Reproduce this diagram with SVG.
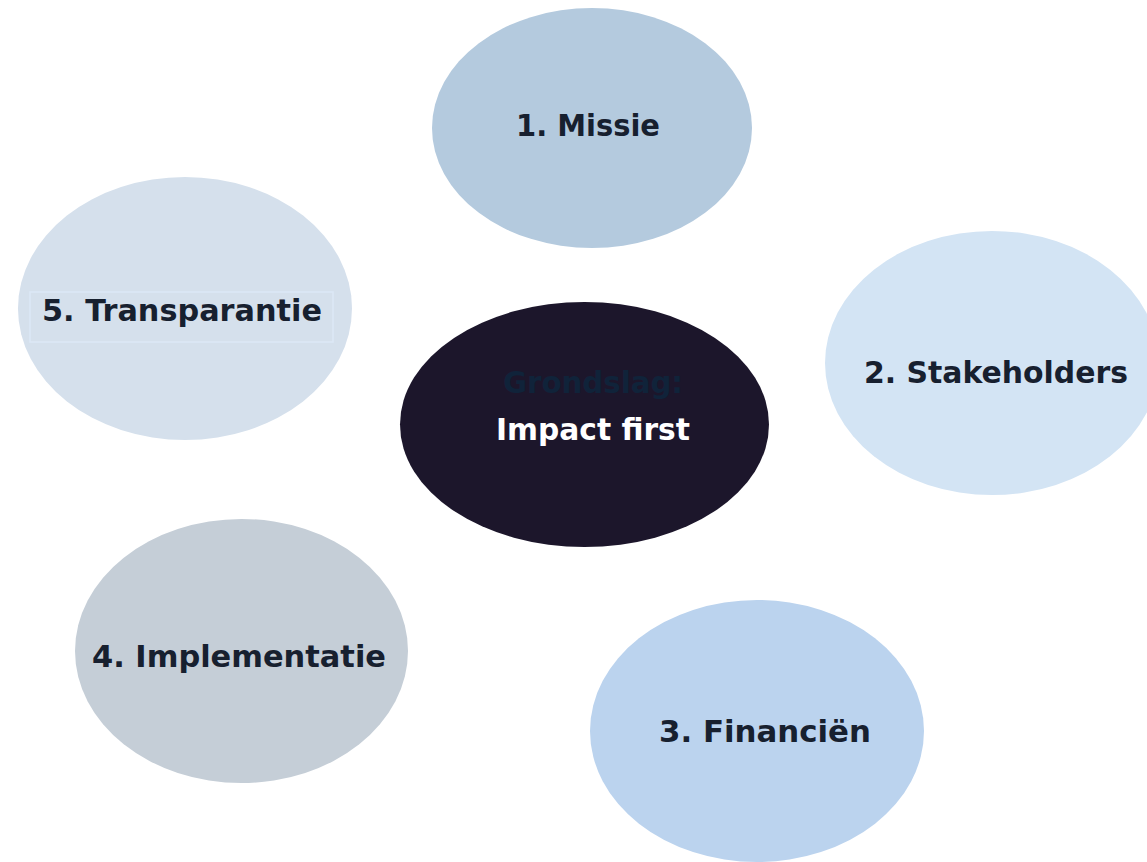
<svg xmlns="http://www.w3.org/2000/svg" width="1147" height="862" viewBox="0 0 1147 862">
<style>
.lbl{font-family:"DejaVu Sans","Liberation Sans",sans-serif;font-weight:bold;font-size:30px;text-anchor:middle;fill:#17202f}
.ctr{font-family:"DejaVu Sans","Liberation Sans",sans-serif;font-weight:bold;font-size:30px;text-anchor:middle}
</style>
<rect width="1147" height="862" fill="#ffffff"/>
<g id="connectors"></g>
<g id="n1"><ellipse cx="592" cy="128" rx="160" ry="120" fill="#b4cade"/><text class="lbl" x="588" y="136" textLength="144" lengthAdjust="spacingAndGlyphs">1. Missie</text></g>
<g id="n2"><ellipse cx="992" cy="363" rx="167" ry="132" fill="#d3e4f4"/><text class="lbl" x="996" y="383" textLength="264" lengthAdjust="spacingAndGlyphs">2. Stakeholders</text></g>
<g id="n3"><ellipse cx="757" cy="731" rx="167" ry="131" fill="#bbd3ee"/><text class="lbl" x="765" y="742" textLength="212" lengthAdjust="spacingAndGlyphs">3. Financiën</text></g>
<g id="n4"><ellipse cx="241.5" cy="651" rx="166.5" ry="132" fill="#c5ced7"/><text class="lbl" x="239" y="667" textLength="294" lengthAdjust="spacingAndGlyphs">4. Implementatie</text></g>
<g id="n5"><ellipse cx="185" cy="308.5" rx="167" ry="131.5" fill="#d5e0ec"/><rect x="30" y="292" width="303" height="50" fill="none" stroke="#dce8f6" stroke-width="1.5"/><text class="lbl" x="182" y="321" textLength="280" lengthAdjust="spacingAndGlyphs">5. Transparantie</text></g>
<g id="center"><ellipse cx="584.5" cy="424.5" rx="184.5" ry="122.5" fill="#1c162b"/><text class="ctr" x="593" y="393" fill="#10233a" textLength="180" lengthAdjust="spacingAndGlyphs">Grondslag:</text><text class="ctr" x="593" y="440" fill="#ffffff" textLength="194" lengthAdjust="spacingAndGlyphs">Impact first</text></g>
</svg>
